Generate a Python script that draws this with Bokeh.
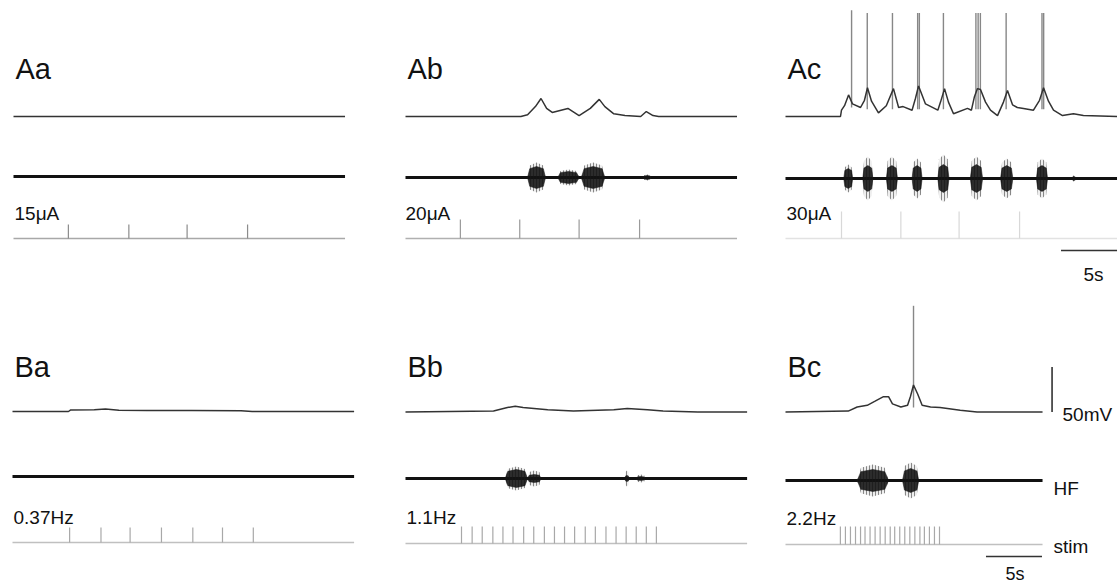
from bokeh.plotting import figure
from bokeh.models import Range1d, Label
from bokeh.embed import file_html
from bokeh.resources import INLINE

# ---------------- data ----------------
panels = ["Aa", "Ab", "Ac", "Ba", "Bb", "Bc"]
stim_labels = ["15\u03bcA", "20\u03bcA", "30\u03bcA", "0.37Hz", "1.1Hz", "2.2Hz"]
durations_s = [29.6, 29.6, 29.6, 30.5, 30.5, 22.95]

# membrane potential traces (time s, deflection mV from rest)
vm_t_Aa = [0, 29.6]
vm_Aa = [0, 0]
vm_t_Ab = [0, 10.3, 10.9, 11.6, 12.1, 12.6, 13.1, 14.5, 15.5, 16.5, 17.3, 17.8, 18.6, 19.6,
           21.0, 21.5, 22.1, 22.6, 29.6]
vm_Ab = [0, 0, 2, 11, 20, 9, 4.5, 9, 1, 9, 19, 11, 3, 1, 0, 5.5, 1, 0, 0]
vm_t_Ac = [0, 4.91, 5.0, 5.27, 5.63, 5.98, 6.7, 7.05, 7.32, 7.68, 8.3, 9.0, 9.64, 10.1, 10.5,
           11.3, 11.6, 11.88, 12.5, 13.6, 13.84, 14.2, 14.55, 15.0, 16.25, 16.6, 16.87, 17.14,
           17.41, 17.86, 18.3, 18.93, 19.46, 19.82, 20.27, 20.7, 21.25, 22.14, 22.68, 23.04,
           23.48, 23.93, 24.73, 25.71, 26.6, 29.6]
vm_Ac = [0, 0, 7, 12, 24, 14, 10, 18, 32, 17, 4, 12, 31, 10, 11, 7, 20, 34, 14, 7, 16, 31,
         16, 3, 9, 7, 22, 31, 30, 16, 7, 1, 16, 29, 13, 10, 9, 7, 18, 32, 17, 7, 1, 3, 1, 0]
vm_t_Ba = [0, 5.0, 5.2, 7.3, 8.3, 9.5, 12.0, 16.0, 20.4, 21.4, 30.5]
vm_Ba = [0, 0, 1.7, 2.0, 2.8, 1.5, 1.2, 1.0, 0.8, 0, 0]
vm_t_Bb = [0, 7.86, 9.1, 9.8, 10.5, 12.7, 15.0, 18.6, 19.8, 21.6, 23.0, 26.1, 30.5]
vm_Bb = [0, 1, 5, 6.3, 5, 2.6, 1, 2.6, 4, 2.6, 1, 0, 0]
vm_t_Bc = [0, 5.6, 6.4, 7.3, 8.0, 8.75, 9.2, 9.55, 10.3, 10.9, 11.15, 11.43, 11.8, 12.2,
           12.95, 13.8, 15.6, 17.1, 22.95]
vm_Bc = [0, 1, 5.5, 7.4, 12, 17, 17, 9, 5.5, 7.4, 17, 30, 20, 7.4, 5.5, 5, 2, 0, 0]

# action potentials (time s, base mV, peak mV)
spike_t_Ac = [5.9, 7.3, 9.55, 11.8, 11.95, 14.1, 17.0, 17.2, 17.4, 19.7, 22.9, 23.05]
spike_base_Ac = [10, 8, 8, 8, 8, 8, 8, 8, 8, 8, 8, 8]
spike_peak_Ac = [118, 115, 115, 115, 115, 115, 115, 115, 115, 115, 115, 115]
spike_t_Bc = [11.43]
spike_base_Bc = [5]
spike_peak_Bc = [118]

# HF nerve bursts: start s, end s, core amplitude, outer amplitude (a.u.)
hf_start_Ab = [10.9, 13.6, 15.7, 21.25]
hf_end_Ab = [12.5, 15.5, 17.8, 21.9]
hf_core_Ab = [11, 6, 11, 2]
hf_outer_Ab = [15, 8, 15, 3]
hf_start_Ac = [5.2, 6.9, 9.0, 11.3, 13.6, 16.5, 19.2, 22.4, 25.6]
hf_end_Ac = [6.0, 7.8, 10.0, 12.2, 14.6, 17.6, 20.3, 23.4, 25.9]
hf_core_Ac = [10, 13, 13, 13, 14, 14, 13, 13, 2]
hf_outer_Ac = [14, 22, 22, 20, 24, 22, 20, 20, 3]
hf_start_Bb = [8.9, 10.9, 19.6, 20.6]
hf_end_Bb = [10.9, 12.1, 19.95, 21.4]
hf_core_Bb = [9, 4, 3, 2]
hf_outer_Bb = [12, 8, 8, 4]
hf_start_Bc = [6.4, 10.45]
hf_end_Bc = [9.2, 11.9]
hf_core_Bc = [11, 12]
hf_outer_Bc = [16, 18]

# stimulus times (s)
stim_Aa = [4.9, 10.3, 15.5, 20.9]
stim_Ab = [4.9, 10.2, 15.5, 20.9]
stim_Ac = [5.0, 10.3, 15.5, 20.9]
stim_Ba = [5.1, 7.9, 10.5, 13.3, 16.1, 18.75, 21.5]
stim_Bb = [5.0, 5.95, 6.85, 7.8, 8.7, 9.6, 10.55, 11.45, 12.4, 13.3, 14.2, 15.1, 16.05,
           16.95, 17.9, 18.8, 19.7, 20.6, 21.5, 22.4]
stim_Bc = [4.9, 5.35, 5.8, 6.25, 6.7, 7.1, 7.55, 8.0, 8.45, 8.9, 9.35, 9.75, 10.2, 10.65,
           11.1, 11.55, 12.0, 12.4, 12.85, 13.3, 13.75]

scale_time_s = 5
scale_vm_mV = 50

vm_t = dict(Aa=vm_t_Aa, Ab=vm_t_Ab, Ac=vm_t_Ac, Ba=vm_t_Ba, Bb=vm_t_Bb, Bc=vm_t_Bc)
vm_v = dict(Aa=vm_Aa, Ab=vm_Ab, Ac=vm_Ac, Ba=vm_Ba, Bb=vm_Bb, Bc=vm_Bc)
stims = dict(Aa=stim_Aa, Ab=stim_Ab, Ac=stim_Ac, Ba=stim_Ba, Bb=stim_Bb, Bc=stim_Bc)
spikes = dict(Ac=(spike_t_Ac, spike_base_Ac, spike_peak_Ac),
              Bc=(spike_t_Bc, spike_base_Bc, spike_peak_Bc))
bursts = dict(Ab=(hf_start_Ab, hf_end_Ab, hf_core_Ab, hf_outer_Ab),
              Ac=(hf_start_Ac, hf_end_Ac, hf_core_Ac, hf_outer_Ac),
              Bb=(hf_start_Bb, hf_end_Bb, hf_core_Bb, hf_outer_Bb),
              Bc=(hf_start_Bc, hf_end_Bc, hf_core_Bc, hf_outer_Bc))

# ---------------- layout (page pixels; Bokeh's page has no body margin) ----------------
W, H = 1120, 584
PX_PER_S = 11.2
PX_PER_MV = 0.9
PX_PER_AU = 1.0
FONT = "Liberation Sans"

# x of t=0, y of Vm baseline, HF baseline, stim baseline, stim tick height
geom = dict(
    Aa=(13, 116, 176, 238, 14),
    Ab=(405, 116, 177, 238, 19),
    Ac=(785, 116, 178, 238, 27),
    Ba=(12, 411, 476, 542, 15),
    Bb=(405, 411.5, 478, 543, 17),
    Bc=(785, 411.5, 480, 544, 18),
)
label_pos = dict(Aa=(15, 68), Ab=(407, 68), Ac=(787, 68),
                 Ba=(14, 366), Bb=(407, 366), Bc=(787, 366))
stim_label_pos = dict(Aa=(14, 213), Ab=(405, 213), Ac=(786, 213),
                      Ba=(13, 517), Bb=(406, 517), Bc=(786, 518))
stim_colors = dict(Aa=("#a8a8a8", "#8c8c8c"), Ab=("#b0b0b0", "#9a9a9a"),
                   Ac=("#e2e2e2", "#d8d8d8"), Ba=("#c0c0c0", "#a8a8a8"),
                   Bb=("#c0c0c0", "#a8a8a8"), Bc=("#c0c0c0", "#a8a8a8"))

p = figure(width=W, height=H, output_backend="svg", toolbar_location=None,
           x_range=Range1d(0, W), y_range=Range1d(0, H),
           x_axis_type=None, y_axis_type=None, min_border=0)
p.grid.visible = False
p.outline_line_color = None
p.background_fill_color = "white"
p.border_fill_color = "white"


def xr(x_img):
    return Range1d(start=-x_img / PX_PER_S, end=(W - x_img) / PX_PER_S)


def yr(y_img, k):
    return Range1d(start=-(H - y_img) / k, end=y_img / k)


for name, slabel, dur in zip(panels, stim_labels, durations_s):
    x0, yv, yh, ys, th = geom[name]
    p.extra_x_ranges[name] = xr(x0)
    p.extra_y_ranges[name + "_vm"] = yr(yv, PX_PER_MV)
    p.extra_y_ranges[name + "_hf"] = yr(yh, PX_PER_AU)
    p.extra_y_ranges[name + "_st"] = yr(ys, PX_PER_AU)
    kv = dict(x_range_name=name, y_range_name=name + "_vm")
    kh = dict(x_range_name=name, y_range_name=name + "_hf")
    ks = dict(x_range_name=name, y_range_name=name + "_st")

    # spikes (drawn beneath the Vm trace)
    if name in spikes:
        st, sb, sp = spikes[name]
        p.segment(x0=st, y0=sb, x1=st, y1=sp, line_color="#7a7a7a", line_width=1.4,
                  line_alpha=0.9, **kv)
    # membrane potential
    p.line(vm_t[name], vm_v[name], line_color="#333333", line_width=1.5, **kv)

    # HF nerve baseline + bursts
    p.line([0, dur], [0, 0], line_color="#111111", line_width=3, **kh)
    if name in bursts:
        bs, be, bc, bo = bursts[name]
        fr = [0, 0.12, 0.5, 0.88, 1, 0.88, 0.5, 0.12]
        sh = [0, 0.8, 1, 0.8, 0, -0.8, -1, -0.8]
        xs = [[s + f * (e - s) for f in fr] for s, e in zip(bs, be)]
        ys_o = [[a * k for k in sh] for a in bo]
        ys_c = [[a * k for k in sh] for a in bc]
        p.patches(xs, ys_o, fill_color="#777777", fill_alpha=0.12, line_color=None,
                  hatch_pattern="vertical_line", hatch_color="#333333", hatch_alpha=0.55,
                  hatch_scale=3, hatch_weight=1, **kh)
        p.patches(xs, ys_c, fill_color="#111111", fill_alpha=0.88, line_color="#111111",
                  line_alpha=0.5, line_width=1, **kh)

    # stimulus trace
    base_c, tick_c = stim_colors[name]
    p.line([0, dur], [0, 0], line_color=base_c, line_width=1.5, **ks)
    p.segment(x0=stims[name], y0=0, x1=stims[name], y1=th, line_color=tick_c,
              line_width=1.2, **ks)

    lx, ly = label_pos[name]
    p.add_layout(Label(x=lx, y=H - ly, x_units="screen", y_units="screen",
                       text=name, text_font=FONT, text_font_size="29px",
                       text_color="#111111", text_baseline="alphabetic"))
    sx, sy = stim_label_pos[name]
    p.add_layout(Label(x=sx, y=H - sy, x_units="screen", y_units="screen",
                       text=slabel, text_font=FONT, text_font_size="19px",
                       text_color="#111111", text_baseline="alphabetic"))

# scale bars
p.segment(x0=[24.6], y0=[-12], x1=[24.6 + scale_time_s], y1=[-12], line_color="#333333",
          line_width=1.6, x_range_name="Ac", y_range_name="Ac_st")
p.segment(x0=[17.9], y0=[-12], x1=[17.9 + scale_time_s], y1=[-12], line_color="#333333",
          line_width=1.6, x_range_name="Bc", y_range_name="Bc_st")
p.segment(x0=[23.8], y0=[0], x1=[23.8], y1=[scale_vm_mV], line_color="#333333",
          line_width=1.6, x_range_name="Bc", y_range_name="Bc_vm")

side_texts = [("5s", 1083, 274, "19px"), ("5s", 1005, 573, "18px"),
              ("50mV", 1062, 414, "19px"), ("HF", 1053, 488, "19px"),
              ("stim", 1053, 546, "19px")]
for txt, tx, ty, fs in side_texts:
    p.add_layout(Label(x=tx, y=H - ty, x_units="screen", y_units="screen",
                       text=txt, text_font=FONT, text_font_size=fs,
                       text_color="#111111", text_baseline="alphabetic"))

open("out.html", "w").write(file_html(p, INLINE))
